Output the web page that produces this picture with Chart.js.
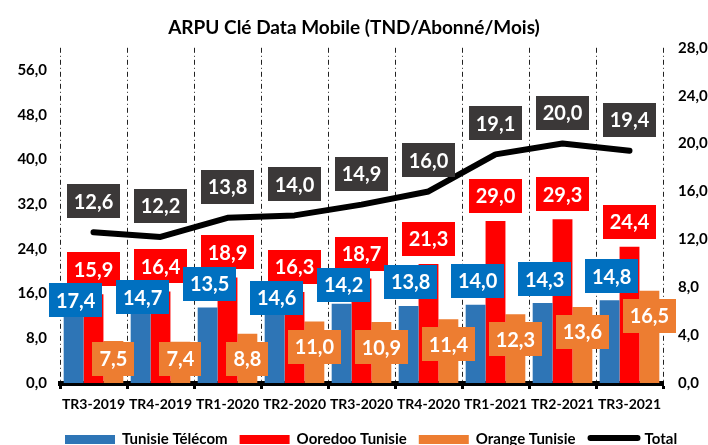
<!DOCTYPE html>
<html>
<head>
<meta charset="utf-8">
<script src="https://cdn.jsdelivr.net/npm/chart.js@4.4.1/dist/chart.umd.min.js"></script>
<style>
  html, body { margin: 0; padding: 0; background: #fff; overflow: hidden; }
  #wrap { width: 708px; height: 445px; }
</style>
</head>
<body>
<div id="wrap"><canvas id="chart" width="708" height="445"></canvas></div>
<script>
const quarters = ["TR3-2019", "TR4-2019", "TR1-2020", "TR2-2020", "TR3-2020", "TR4-2020", "TR1-2021", "TR2-2021", "TR3-2021"];
const tunisieTelecom = [17.4, 14.7, 13.5, 14.6, 14.2, 13.8, 14.0, 14.3, 14.8];
const ooredoo = [15.9, 16.4, 18.9, 16.3, 18.7, 21.3, 29.0, 29.3, 24.4];
const orange = [7.5, 7.4, 8.8, 11.0, 10.9, 11.4, 12.3, 13.6, 16.5];
const total = [12.6, 12.2, 13.8, 14.0, 14.9, 16.0, 19.1, 20.0, 19.4];

const FONT = "Lato";
const fmt = (v) => Number(v).toFixed(1).replace(".", ",");

// boites de valeurs (style Excel)
function drawBox(ctx, x, y, text, bg) {
  ctx.font = "bold 20px " + FONT;
  const w = ctx.measureText(text).width + 14;
  const h = 34;
  ctx.fillStyle = bg;
  ctx.fillRect(Math.round(x - w / 2), Math.round(y - h / 2), Math.round(w), h);
  ctx.fillStyle = "#fff";
  ctx.textAlign = "center";
  ctx.textBaseline = "middle";
  ctx.fillText(text, x, y + 1);
}

const boxLabels = {
  id: "boxLabels",
  afterDatasetsDraw(chart) {
    const ctx = chart.ctx;
    const tt = chart.getDatasetMeta(0).data;
    const oo = chart.getDatasetMeta(1).data;
    const or = chart.getDatasetMeta(2).data;
    const tot = chart.getDatasetMeta(3).data;
    const bottom = chart.chartArea.bottom;
    ctx.save();
    quarters.forEach((q, i) => {
      const redY = oo[i].y - 25;
      const blueY = Math.max(tt[i].y - 24, redY + 31);
      const orY = Math.min(or[i].y + 25, bottom - 24);
      drawBox(ctx, oo[i].x, redY, fmt(ooredoo[i]), "#FF0000");
      drawBox(ctx, tt[i].x + 2, blueY, fmt(tunisieTelecom[i]), "#0070C0");
      drawBox(ctx, or[i].x, orY, fmt(orange[i]), "#ED7D31");
      drawBox(ctx, tot[i].x, tot[i].y - 31, fmt(total[i]), "#3B3838");
    });
    ctx.restore();
  },
};

// legende en bas, coupee comme sur l'original
const bottomLegend = {
  id: "bottomLegend",
  afterDraw(chart) {
    const ctx = chart.ctx;
    const y = 439;
    let x = 65;
    ctx.save();
    ctx.font = "bold 15px " + FONT;
    ctx.textBaseline = "middle";
    ctx.textAlign = "left";
    chart.data.datasets.forEach((ds) => {
      if (ds.type === "line") {
        ctx.strokeStyle = ds.borderColor;
        ctx.lineWidth = 6;
        ctx.lineCap = "round";
        ctx.beginPath();
        ctx.moveTo(x + 3, y - 1);
        ctx.lineTo(x + 50, y - 1);
        ctx.stroke();
      } else {
        ctx.fillStyle = ds.backgroundColor;
        ctx.fillRect(x, y - 4, 50, 9);
      }
      x += 57;
      ctx.fillStyle = "#000";
      ctx.fillText(ds.label, x, y);
      x += ctx.measureText(ds.label).width + 12;
    });
    ctx.restore();
  },
};

new Chart(document.getElementById("chart"), {
  data: {
    labels: quarters,
    datasets: [
      { type: "bar", label: "Tunisie Télécom", data: tunisieTelecom, backgroundColor: "#2E75B6", yAxisID: "y", order: 1 },
      { type: "bar", label: "Ooredoo Tunisie", data: ooredoo, backgroundColor: "#FF0000", yAxisID: "y", order: 1 },
      { type: "bar", label: "Orange Tunisie", data: orange, backgroundColor: "#ED7D31", yAxisID: "y", order: 1 },
      {
        type: "line", label: "Total", data: total, yAxisID: "y2", order: 0,
        borderColor: "#000", backgroundColor: "#000", borderWidth: 6,
        borderCapStyle: "round", borderJoinStyle: "round",
        pointRadius: 0, tension: 0,
      },
    ],
  },
  options: {
    responsive: false,
    animation: false,
    layout: { padding: { left: 0, right: 0, top: 0, bottom: 32 } },
    datasets: { bar: { categoryPercentage: 0.89, barPercentage: 1 } },
    scales: {
      x: {
        offset: true,
        grid: { display: true, offset: true, color: "#222", lineWidth: 1, drawTicks: true, tickLength: 6, tickColor: "#000", tickWidth: 3 },
        border: { display: true, color: "#000", width: 5, dash: [5, 3, 1, 3] },
        ticks: { color: "#000", font: { family: FONT, weight: "bold", size: 14 }, padding: 7, maxRotation: 0 },
        afterFit: (s) => { s.height = 30; },
      },
      y: {
        position: "left", min: 0, max: 60,
        grid: { display: false, drawTicks: false },
        border: { display: false },
        ticks: { stepSize: 8, color: "#000", padding: 13, font: { family: FONT, weight: "bold", size: 15 }, callback: fmt },
        afterBuildTicks: (s) => { s.ticks = s.ticks.filter((t) => t.value <= 56); },
        afterFit: (s) => { s.width = 60; },
      },
      y2: {
        position: "right", min: 0, max: 28,
        grid: { display: false, drawTicks: false },
        border: { display: false },
        ticks: { stepSize: 4, color: "#000", padding: 15, font: { family: FONT, weight: "bold", size: 15 }, callback: fmt },
        afterFit: (s) => { s.width = 45; },
      },
    },
    plugins: {
      legend: { display: false },
      tooltip: { enabled: false },
      title: {
        display: true,
        text: "ARPU Clé Data Mobile (TND/Abonné/Mois)",
        color: "#000",
        font: { family: FONT, weight: "bold", size: 19 },
        padding: { top: 16, bottom: 9 },
      },
    },
  },
  plugins: [boxLabels, bottomLegend],
});
</script>
</body>
</html>
